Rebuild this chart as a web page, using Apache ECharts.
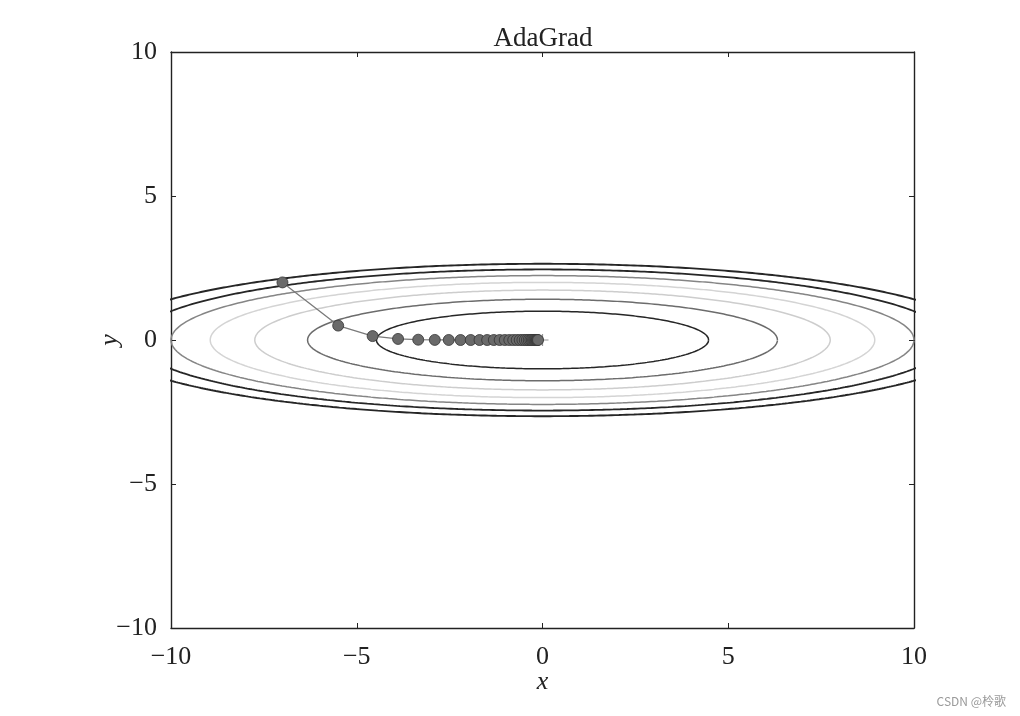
<!DOCTYPE html>
<html>
<head>
<meta charset="utf-8">
<script src="https://cdn.jsdelivr.net/npm/echarts@6/dist/echarts.min.js"></script>
<style>
  html, body { margin: 0; padding: 0; background: #fff; }
  #main { width: 1020px; height: 716px; }
</style>
</head>
<body>
<div id="main"></div>
<script>
// 等高线：f(x, y) = x^2 / 20 + y^2
const contourLevels = [1, 2, 3, 4, 5, 6, 7];
const contourColors = ['#262626', '#6c6c6c', '#cdcdcd', '#d4d4d4', '#858585', '#262626', '#262626'];
const contourWidths = [1.5, 1.5, 1.5, 1.5, 1.5, 1.8, 1.9];

// AdaGrad 更新轨迹
const pathX = [-7, -5.5, -4.573, -3.888, -3.345, -2.899, -2.524, -2.206, -1.932, -1.695, -1.490,
  -1.310, -1.153, -1.015, -0.894, -0.788, -0.695, -0.613, -0.541, -0.477, -0.421,
  -0.371, -0.327, -0.288, -0.254, -0.224, -0.198, -0.175, -0.154, -0.136, -0.120];
const pathY = [2, 0.5, 0.136, 0.037, 0.010, 0.003, 0.001, 0, 0, 0, 0,
  0, 0, 0, 0, 0, 0, 0, 0, 0, 0,
  0, 0, 0, 0, 0, 0, 0, 0, 0, 0];

const tickValues = [-10, -5, 0, 5, 10];

const serif = 'Liberation Serif';
const fmt = v => String(v).replace('-', '\u2212');

// 椭圆等高线的点
function ellipse(level) {
  const a = Math.sqrt(20 * level), b = Math.sqrt(level);
  const pts = [];
  for (let i = 0; i <= 720; i++) {
    const t = i / 720 * Math.PI * 2;
    pts.push([a * Math.cos(t), b * Math.sin(t)]);
  }
  return pts;
}

const myChart = echarts.init(document.getElementById('main'));

const axisBase = {
  type: 'value',
  min: tickValues[0],
  max: tickValues[tickValues.length - 1],
  interval: 5,
  splitLine: { show: false },
  axisLine: { show: true, onZero: false, lineStyle: { color: '#222', width: 1.4 } },
  axisTick: { show: true, inside: true, length: 5, lineStyle: { color: '#222', width: 1 } }
};

const series = contourLevels.map((lv, i) => ({
  type: 'line',
  data: ellipse(lv),
  showSymbol: false,
  symbol: 'none',
  smooth: false,
  silent: true,
  lineStyle: { color: contourColors[i], width: contourWidths[i] },
  z: 2
}));

// 原点 "+"
series.push({
  type: 'scatter',
  data: [[0, 0]],
  symbol: 'path://M0,5.4h12v1.2h-12z M5.4,0h1.2v12h-1.2z',
  symbolSize: 12,
  itemStyle: { color: '#7a7a7a' },
  z: 3
});

series.push({
  type: 'line',
  data: pathX.map((x, i) => [x, pathY[i]]),
  symbol: 'circle',
  symbolSize: 11,
  showSymbol: true,
  lineStyle: { color: '#7a7a7a', width: 1.3 },
  itemStyle: { color: '#6a6a6a', borderColor: '#333', borderWidth: 0.8 },
  z: 4
});

const option = {
  animation: false,
  backgroundColor: '#fff',
  title: {
    text: 'AdaGrad',
    left: 538,
    textAlign: 'center',
    top: 20,
    textStyle: { fontFamily: serif, fontSize: 27, fontWeight: 'normal', color: '#222' }
  },
  grid: { left: 171, right: 106, top: 52, bottom: 88 },
  xAxis: [
    Object.assign({}, axisBase, {
      position: 'bottom',
      name: 'x',
      nameLocation: 'middle',
      nameGap: 41,
      nameMoveOverlap: false,
      nameTextStyle: { fontFamily: serif, fontStyle: 'italic', fontSize: 26, color: '#222' },
      axisLabel: { margin: 16, formatter: fmt, fontFamily: serif, fontSize: 26, color: '#222' }
    }),
    Object.assign({}, axisBase, { position: 'top', axisLabel: { show: false } })
  ],
  yAxis: [
    Object.assign({}, axisBase, {
      position: 'left',
      name: 'y',
      nameLocation: 'middle',
      nameRotate: 90,
      nameGap: 48,
      nameMoveOverlap: false,
      nameTextStyle: { fontFamily: serif, fontStyle: 'italic', fontSize: 26, color: '#222' },
      axisLabel: { margin: 14, formatter: fmt, fontFamily: serif, fontSize: 26, color: '#222' }
    }),
    Object.assign({}, axisBase, { position: 'right', axisLabel: { show: false } })
  ],
  series: series,
  graphic: [{
    type: 'text',
    right: 14,
    bottom: 9,
    style: { text: 'CSDN @柃歌', fontFamily: 'Noto Sans CJK SC', fontSize: 12, fill: '#9a9a9a' }
  }]
};

myChart.setOption(option);
</script>
</body>
</html>
